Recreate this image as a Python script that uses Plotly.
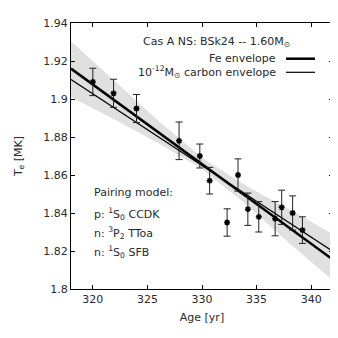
import plotly.graph_objects as go

# observed Cas A NS temperatures
age = [320.0, 321.9, 324.0, 327.9, 329.8, 330.7, 332.3, 333.3, 334.2, 335.2, 336.7, 337.3, 338.3, 339.2]
te = [1.909, 1.903, 1.895, 1.878, 1.870, 1.857, 1.835, 1.860, 1.842, 1.838, 1.837, 1.843, 1.840, 1.831]
te_err = [0.0072, 0.0074, 0.0074, 0.0099, 0.0063, 0.007, 0.0072, 0.0085, 0.0085, 0.008, 0.009, 0.009, 0.009, 0.007]

# fit band
band_age = [318, 322, 326, 330, 334, 338, 342]
band_hi = [1.9304, 1.9092, 1.8885, 1.8691, 1.8545, 1.8419, 1.8288]
band_lo = [1.9010, 1.8892, 1.8767, 1.8631, 1.8447, 1.8241, 1.8044]

# model cooling curves
model_age = [318, 342]
fe_te = [1.9160, 1.8154]
carbon_te = [1.9102, 1.8198]

font = dict(family="DejaVu Sans", size=11, color="#2a2a2a")

fig = go.Figure()
fig.add_trace(go.Scatter(x=band_age + band_age[::-1], y=band_hi + band_lo[::-1],
                         fill="toself", fillcolor="#e0e0e0", line=dict(width=0),
                         mode="lines", hoverinfo="skip", showlegend=False))
fig.add_trace(go.Scatter(x=model_age, y=fe_te, mode="lines",
                         line=dict(color="black", width=2.5), showlegend=False))
fig.add_trace(go.Scatter(x=model_age, y=carbon_te, mode="lines",
                         line=dict(color="black", width=1.2), showlegend=False))
fig.add_trace(go.Scatter(x=age, y=te, mode="markers",
                         marker=dict(symbol="asterisk-open", size=5, color="black",
                                     line=dict(color="black", width=1.5)),
                         error_y=dict(type="data", array=te_err, color="#222",
                                      thickness=1, width=3.5),
                         showlegend=False))

# legend drawn by hand
def px(x):
    return (x - 62.7) / 262.3


def py(y):
    return (281 - y) / 266


legend_rows = [
    ("Cas A NS: BSk24 -- 1.60M<sub>⊙</sub>", 33.5, None),
    ("Fe envelope", 50.7, 2.5),
    ("10<sup>-12</sup>M<sub>⊙</sub> carbon envelope", 64.3, 1.2),
]
for text, y, lw in legend_rows:
    xr = 284 if lw is None else 270
    fig.add_annotation(x=px(xr), y=py(y), xref="paper", yref="paper", text=text,
                       showarrow=False, xanchor="right", yanchor="middle", font=font)
    if lw is not None:
        fig.add_shape(type="line", xref="paper", yref="paper", x0=px(278), x1=px(307),
                      y0=py(y), y1=py(y), line=dict(color="black", width=lw))

pairing = ["Pairing model:",
           "p: <sup>1</sup>S<sub>0</sub> CCDK",
           "n: <sup>3</sup>P<sub>2</sub> TToa",
           "n: <sup>1</sup>S<sub>0</sub> SFB"]
for text, y in zip(pairing, [184, 205.5, 225, 244]):
    fig.add_annotation(x=px(84), y=py(y), xref="paper", yref="paper", text=text,
                       showarrow=False, xanchor="left", yanchor="middle", font=font)

axis_common = dict(showgrid=False, zeroline=False, showline=True, linecolor="black",
                   linewidth=1, mirror="allticks", ticks="inside", ticklen=4,
                   tickcolor="black", tickfont=font, automargin=False)
fig.update_xaxes(range=[318, 342], tickvals=[320, 325, 330, 335, 340],
                 title=dict(text="Age [yr]", font=font, standoff=8), **axis_common)
fig.update_yaxes(range=[1.8, 1.94], tickvals=[1.8, 1.82, 1.84, 1.86, 1.88, 1.9, 1.92, 1.94],
                 ticktext=["1.8", "1.82", "1.84", "1.86", "1.88", "1.9", "1.92", "1.94"],
                 title=dict(text="T<sub>e</sub> [MK]", font=font, standoff=18), **axis_common)
fig.update_layout(width=338, height=338, margin=dict(l=63, r=13, t=15, b=57),
                  plot_bgcolor="white", paper_bgcolor="white", font=font)
fig.write_html("out.html")
